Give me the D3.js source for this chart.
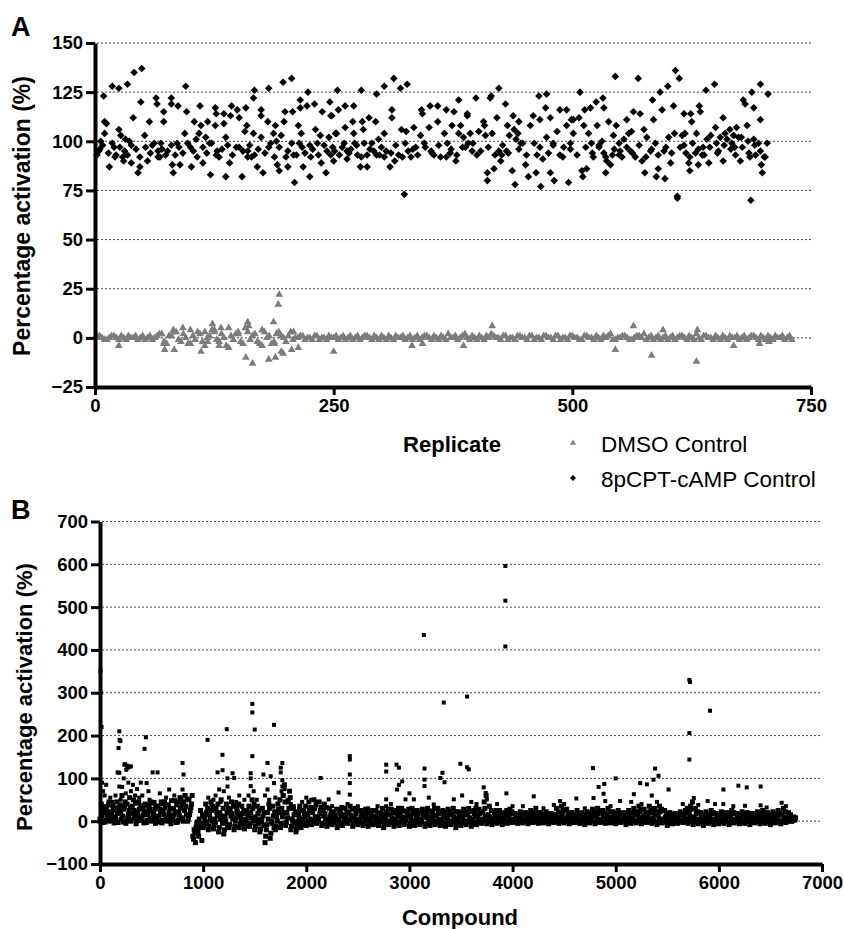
<!DOCTYPE html>
<html><head><meta charset="utf-8">
<script src="https://cdn.jsdelivr.net/npm/d3@7"></script>
<style>
body{margin:0;background:#fff}
svg{display:block;background:#fff}
text{font-family:"Liberation Sans",Arial,Helvetica,sans-serif}
</style>
</head><body>
<svg id="chart" width="844" height="929"></svg>
<script>
// ---------- Panel A data ----------
const ticksAX = [0, 250, 500, 750];
const ticksAY = [-25, 0, 25, 50, 75, 100, 125, 150];
const legendLabels = ["DMSO Control", "8pCPT-cAMP Control"];

// DMSO control: one value every 5 replicates (0..730)
const dmsoStep = 5;
const dmsoBase = [
  0,1,-1,0,1,-1,0,1,0,-1,
  1,0,-1,1,2,-3,1,3,-2,0,
  4,-1,2,-4,1,3,-2,0,5,-1,
  2,-3,3,1,-2,4,0,-3,2,1,
  -2,3,0,1,-1,0,1,-1,0,1,
  0,-1,1,0,-1,1,0,1,-1,0,
  1,-1,0,1,0,-1,1,0,-1,1,
  0,1,-1,0,2,0,-1,1,0,1,
  -1,0,1,2,0,-1,1,0,-1,1,
  0,1,-1,0,1,0,-1,1,0,-1,
  1,0,-1,1,0,1,-1,0,2,-1,
  0,1,-1,0,1,2,0,-1,1,0,
  -1,1,0,1,-1,0,2,-1,1,0,
  1,-1,0,1,0,-1,1,0,1,-1,
  0,1,-1,0,1,0,-1
];
// DMSO control: replicates in between (2.5, 7.5, ... 727.5)
const dmsoMid = [
  1,0,-1,1,0,1,-1,0,1,0,
  -1,1,0,2,-2,1,3,-1,2,-3,
  1,3,-2,0,4,-1,2,-4,1,2,
  -2,5,-1,2,-3,3,1,-2,3,0,
  1,-1,0,1,0,-1,1,0,-1,0,
  1,0,-1,1,0,-1,1,0,1,-1,
  0,1,-1,0,1,0,-1,1,0,1,
  -1,0,1,-1,0,1,0,2,-1,0,
  1,-1,0,1,0,1,-1,0,1,0,
  -1,1,0,-1,1,0,1,-1,0,1,
  0,-1,1,0,-1,0,1,1,-1,0,
  1,0,-1,1,0,-1,1,0,-1,1,
  0,-1,1,0,1,-1,0,1,0,-1,
  0,1,-1,0,1,0,-1,1,0,1,
  -1,0,1,0,-1,1
];
// DMSO outlying replicates [replicate, %]
const dmsoOut = [
  [25,-4],[72,-3],[73,-6],[83,-6],[82,4],[92,5],[100,-3],[111,-7],[115,3],[118,-2],
  [123,7],[125,4],[130,-4],[132,5],[140,-5],[150,3],[158,-10],[160,8],[161,6],[165,-13],
  [175,-4],[182,-11],[187,8],[188,-3],[189,-10],[192,17],[193,22],[195,-7],[197,-8],
  [206,-6],[208,3],[213,-5],[250,-7],[332,-4],[343,-3],[386,-4],[416,6],[545,-6],
  [564,6],[583,-9],[595,4],[630,-12],[631,4],[669,-4],[696,-3],[706,-2]
];
// 8pCPT-cAMP control [replicate, %]
const camp = [
  [2,93],[4,95],[6,100],[9,123],[10,110],[10,104],[12,109],[15,87],[18,128],[20,97],[22,93],
  [25,127],[25,106],[27,103],[29,92],[30,90],[32,101],[34,129],[36,100],[38,89],[40,112],
  [41,135],[45,84],[47,87],[48,120],[49,137],[52,103],[55,90],[57,110],[60,98],[64,122],
  [65,119],[66,95],[68,92],[69,99],[72,115],[72,110],[74,93],[80,122],[80,119],[81,88],
  [82,84],[86,99],[87,118],[89,88],[94,104],[95,128],[96,115],[100,97],[101,87],[104,110],
  [106,101],[109,104],[110,118],[111,108],[113,89],[116,102],[118,110],[120,99],[121,83],
  [126,117],[127,114],[126,108],[128,95],[130,92],[135,114],[135,109],[137,102],[137,82],
  [141,89],[143,118],[142,113],[149,116],[151,112],[151,97],[154,82],[158,117],[159,108],
  [157,105],[160,95],[160,92],[164,92],[166,104],[167,126],[166,122],[170,87],[174,116],
  [174,113],[174,102],[176,84],[181,110],[182,127],[182,97],[187,104],[189,108],[190,100],
  [191,88],[193,85],[195,103],[197,130],[198,110],[199,115],[200,92],[202,87],[206,132],
  [207,115],[208,93],[209,79],[213,108],[214,99],[215,117],[216,104],[215,121],[218,87],
  [222,118],[223,125],[225,98],[225,82],[226,92],[230,119],[231,106],[233,99],[236,103],
  [237,89],[238,115],[242,84],[245,102],[246,120],[247,113],[247,93],[250,90],[252,104],
  [5,96],[8,98],[14,94],[18,99],[21,92],[26,97],[31,95],[34,93],[38,98],[43,96],[47,92],
  [53,97],[58,94],[62,99],[66,92],[70,96],[76,95],[80,98],[84,93],[88,97],[92,94],[97,99],
  [103,95],[107,92],[113,97],[117,94],[122,99],[127,93],[133,96],[139,98],[144,93],[148,97],
  [155,95],[162,98],[167,93],[171,96],[178,94],[184,99],[188,92],[193,97],[202,95],[206,99],
  [211,93],[217,97],[220,94],[228,96],[234,93],[240,98],[243,95],[249,97],
  [248,113],[254,126],[255,116],[253,104],[251,95],[262,118],[262,107],[261,99],[264,95],
  [264,91],[271,118],[270,110],[271,104],[272,99],[268,96],[275,93],[278,87],[279,126],
  [280,110],[281,106],[282,99],[285,87],[285,93],[287,112],[290,99],[292,95],[294,110],
  [295,124],[297,101],[298,93],[303,128],[303,104],[303,92],[305,95],[309,87],[311,116],
  [311,112],[313,132],[314,90],[318,93],[320,127],[321,106],[324,73],[325,99],[326,105],
  [327,129],[328,95],[331,92],[334,107],[336,97],[341,103],[342,116],[343,114],[345,99],
  [350,107],[351,118],[352,95],[355,93],[359,110],[359,118],[362,92],[366,104],[368,116],
  [369,99],[372,94],[374,108],[376,115],[378,90],[381,121],[381,104],[383,108],[385,97],
  [386,102],[390,114],[390,113],[391,99],[393,104],[395,95],[399,122],[400,93],[402,105],
  [407,110],[408,108],[409,103],[411,84],[411,80],[414,122],[415,123],[416,104],[418,86],
  [421,112],[423,127],[423,95],[425,90],[426,93],[430,119],[431,95],[432,108],[434,103],
  [437,85],[438,113],[439,106],[440,78],[441,101],[443,104],[444,110],[446,99],[448,99],
  [451,88],[454,82],[456,108],[459,113],[460,99],[462,84],[463,93],[465,123],[466,111],
  [467,77],[469,91],[472,117],[473,124],[473,102],[477,112],[477,84],[480,99],[481,80],
  [484,105],[487,116],[487,93],[491,97],[494,116],[494,108],[496,79],[498,99],[499,111],[501,104],
  [256,93],[259,97],[266,94],[274,98],[279,92],[288,96],[295,93],[300,97],[310,94],[315,98],
  [322,92],[333,96],[338,93],[346,97],[353,94],[360,98],[368,92],[373,96],[379,93],[388,97],
  [396,99],[404,95],[412,97],[419,93],[427,98],[433,94],[444,96],[452,93],[466,97],[475,94],
  [480,98],[490,92],[498,96],[505,93],[514,97],[521,94],[528,98],[535,92],[544,96],[549,93],
  [557,97],[563,94],[570,98],[577,92],[583,96],[590,93],[598,97],[604,94],[617,98],[623,92],
  [632,96],[638,93],[644,97],[652,94],[659,98],[666,96],[671,93],[678,97],[685,94],[691,98],
  [697,95],[702,92],
  [501,111],[507,112],[508,125],[510,85],[511,82],[512,108],[513,116],[515,86],[517,104],
  [519,117],[520,99],[522,92],[525,120],[526,108],[528,97],[532,122],[533,117],[531,100],
  [533,94],[535,84],[536,90],[538,110],[540,88],[542,93],[543,103],[545,133],[546,108],
  [549,99],[550,95],[552,92],[554,101],[557,111],[559,104],[561,95],[562,105],[564,115],
  [566,92],[569,132],[571,114],[573,90],[575,106],[576,84],[578,102],[582,95],[584,121],
  [585,111],[587,99],[588,82],[590,86],[592,125],[594,116],[596,95],[597,81],[600,128],
  [601,102],[603,89],[606,118],[607,104],[608,136],[610,72],[610,71],[612,132],[613,97],
  [615,103],[617,114],[618,104],[619,94],[622,89],[623,85],[624,114],[625,110],[626,99],
  [629,94],[630,104],[632,88],[633,118],[634,115],[636,93],[637,97],[640,126],[641,101],
  [643,89],[645,103],[649,129],[650,107],[651,99],[653,95],[655,102],[658,112],[658,90],
  [660,104],[662,101],[665,106],[667,99],[669,103],[670,97],[672,107],[674,102],[676,90],
  [677,102],[679,121],[681,119],[683,108],[684,100],[686,92],[687,70],[688,125],[690,117],
  [690,101],[692,93],[695,99],[697,111],[697,129],[698,88],[699,84],[701,92],[704,99],[705,124]
];

// ---------- Panel B data ----------
const ticksBX = [0, 1000, 2000, 3000, 4000, 5000, 6000, 7000];
const ticksBY = [-100, 0, 100, 200, 300, 400, 500, 600, 700];
// bulk of compounds: 8 sampled compounds per block of 50 (two arrays of 4)
const blockSize = 50;
const bulkA = [
  5,40,-3,20, -2,30,8,45, 0,15,35,-4, 10,45,-3,25, 20,60,-2,35, -5,40,15,55, 0,35,50,10, -6,20,45,5, 2,30,-4,40, -3,15,38,8,
  0,42,12,-5, 6,35,-2,22, -4,25,45,10, 0,38,12,-6, 3,30,48,-3, -2,20,55,8, 5,45,60,15, 0,50,25,40, -35,-20,-50,-8, -25,5,25,-45,
  -15,10,40,-5, -20,15,45,0, -18,5,30,12, -25,20,50,-5, -30,10,40,-10, -15,25,45,5, -20,0,30,15, -15,10,35,-5, -18,5,25,12, -12,20,50,0,
  -20,10,35,-5, -25,5,30,-10, -50,-20,20,40, -40,0,35,-15, -20,10,40,20, -15,30,60,85, -10,20,45,70, -20,5,30,-5, -25,-10,15,35, -15,0,25,10,
  -10,15,45,5, -8,20,50,10, -5,10,45,25, -10,25,40,5, -12,5,30,15, -8,20,10,-3, -15,5,25,12, -10,15,30,0, -5,20,35,8, -12,10,30,0,
  -8,5,25,15, -10,15,28,2, -12,0,20,10, -8,12,25,3, -10,5,20,30, -15,10,22,0, -8,15,28,4, -12,5,25,12, -10,18,30,0, -8,8,22,14,
  -12,10,30,2, -10,15,25,0, -8,5,28,12, -12,18,30,3, -10,8,22,0, -8,12,30,4, -10,5,25,15, -12,10,28,0, -8,15,30,5, -15,5,22,12,
  -10,10,28,0, -8,15,30,3, -12,5,25,12, -8,12,28,0, -5,20,45,10, -6,15,35,2, -8,5,20,12, -5,10,25,0, -8,8,20,15, -5,12,28,2,
  -3,5,18,10, -5,10,22,0, -4,5,20,12, -6,15,25,2, -3,10,30,5, -5,8,20,0, -4,12,22,5, -6,5,18,10, -3,15,30,2, -5,10,35,20,
  -4,5,28,12, -6,8,20,0, -3,12,25,5, -5,5,20,10, -8,10,22,0, -4,8,28,15, -6,12,30,2, -3,5,25,10, -5,15,30,0, -4,8,22,12,
  -6,10,25,2, -3,5,20,12, -8,12,25,0, -5,8,30,15, -4,15,35,5, -6,10,28,0, -3,12,35,20, -5,8,30,15, -8,15,35,2, -4,5,25,12,
  -10,8,20,0, -6,5,18,10, -5,10,22,2, -3,15,25,5, -5,20,35,8, -8,10,30,0, -6,5,20,12, -10,8,22,0, -5,12,25,3, -8,5,18,10,
  -6,10,22,0, -5,8,20,12, -8,12,25,2, -4,5,18,10, -6,10,22,0, -5,8,20,12, -8,5,18,0, -4,10,22,5, -6,8,25,12, -5,12,20,2,
  -8,5,22,10, -4,10,25,0, -6,15,30,5, -3,8,20,2, 0,5,10,3
];
const bulkB = [
  0,12,28,34, 2,15,22,38, 5,10,25,30, 2,18,32,38, 5,12,28,45, 0,8,25,32, 5,18,25,42, 0,12,28,36, 8,15,22,35, 2,22,28,45,
  5,20,28,35, 0,12,28,45, 2,15,32,38, 5,20,28,48, 8,15,22,38, 2,14,30,40, 0,25,35,52, 8,15,32,60, -42,-28,-15,-2, -35,-15,-5,15,
  -10,0,20,30, -12,5,25,35, -10,-3,20,40, -15,5,12,30, -20,0,20,30, -8,12,18,35, -12,8,22,40, -8,2,18,25, -10,0,18,35, -5,8,30,40,
  -12,2,18,25, -18,0,12,20, -35,-8,5,30, -28,-5,12,22, -12,0,28,50, -5,10,20,45, -3,8,30,55, -12,0,15,22, -18,0,8,25, -8,5,18,35,
  -5,0,25,32, -3,2,30,38, 0,5,18,32, -5,12,18,32, -6,0,10,22, 2,5,15,28, -8,0,18,32, -5,5,10,22, 0,3,14,28, -6,5,18,24,
  -4,0,10,20, -5,5,10,20, -6,5,14,25, -3,0,8,18, -5,0,10,15, -8,3,15,28, -3,0,8,20, -6,0,18,30, -4,5,10,24, -2,2,15,28,
  -6,0,18,24, -4,5,10,20, -3,0,18,22, -6,8,12,24, -4,2,14,30, -3,0,18,22, -5,0,10,20, -6,5,15,22, -3,0,10,22, -8,0,10,18,
  -4,5,15,22, -3,0,8,22, -6,0,18,30, -3,5,18,22, 0,5,30,60, -2,5,10,25, -3,0,15,25, -2,5,15,18, -3,0,12,25, 0,5,18,22,
  0,2,8,14, -2,4,15,18, 0,2,8,16, -2,5,10,20, 0,2,15,20, -2,2,12,15, 0,2,8,16, -2,2,12,15, 0,5,10,22, 0,5,14,25,
  0,2,8,18, -2,2,12,15, 0,2,8,18, -2,2,12,15, -3,5,15,18, 0,2,12,20, -2,5,18,24, 0,2,15,18, -2,5,10,22, 0,2,15,18,
  -2,5,15,18, 0,2,8,16, -3,5,18,20, 0,2,20,22, 0,8,22,28, -2,5,15,20, 0,5,22,28, 0,2,20,22, -3,5,22,28, 0,2,8,18,
  -4,0,12,15, -2,2,12,15, 0,2,15,18, 0,8,20,30, 0,12,28,45, -3,2,18,22, -2,0,10,15, -4,2,12,15, 0,5,18,20, -3,0,12,14,
  -2,2,15,18, 0,2,15,18, -3,5,18,20, 0,2,12,15, -2,2,15,18, 0,2,15,18, -3,2,10,12, 0,2,15,18, -2,2,18,20, 0,5,8,15,
  -3,0,15,18, 0,5,15,18, -2,2,10,22, 0,4,12,15, 0,2,6,8
];
// scattered and outlying compounds [compound, %]
const bScatter = [
  [5,350],[10,300],[15,220],[20,90],[30,70],[45,60],[60,85],
  [187,210],[190,190],[180,171],[198,187],[171,114],[187,113],[187,81],[236,132],[261,130],[284,127],[242,133],
  [300,128],[255,120],[270,125],[275,90],[230,100],[215,80],[320,85],[340,60],[360,75],[380,55],[395,90],[410,60],
  [250,65],[300,70],[200,50],[150,60],[120,45],[100,55],[80,40],
  [445,196],[432,169],[452,89],[510,114],[558,114],[671,74],[800,136],[810,109],[800,74],[820,60],[790,50],[760,45],
  [720,60],[640,55],[600,40],[580,65],[530,45],[480,50],[470,70],
  [1043,190],[1187,155],[1229,215],[1140,114],[1155,74],[1188,119],[1236,100],[1236,81],[1285,112],[1301,101],
  [1100,50],[1080,40],[1050,55],[1120,60],[1170,45],[1200,70],[1250,55],[1320,45],[1350,60],[1400,50],
  [1477,274],[1477,254],[1500,214],[1477,152],[1461,112],[1461,100],[1461,82],[1440,60],[1490,70],[1520,50],
  [1687,225],[1624,136],[1584,109],[1655,105],[1687,89],[1624,74],[1600,60],[1640,50],[1700,55],[1768,136],
  [1752,125],[1752,114],[1768,96],[1768,81],[1780,60],[1790,75],[1760,70],[1820,50],[1850,40],[1880,35],
  [1930,30],[1960,45],[2000,55],[2050,50],[2100,45],
  [2139,101],[2422,152],[2422,144],[2422,109],[2422,89],[2422,62],[2313,67],[2217,51],[2250,35],[2400,40],
  [2500,35],[2600,30],[2691,35],[2775,132],[2775,116],[2775,51],[2775,35],[2875,132],[2898,125],[2898,85],
  [2880,74],[2930,93],[2962,51],[3000,65],[3043,51],[2820,40],
  [3140,435],[3146,123],[3146,97],[3146,82],[3188,55],[3236,39],[3300,101],[3320,113],[3340,91],[3333,277],
  [3430,51],[3494,134],[3511,60],[3559,291],[3559,126],[3575,121],[3720,79],[3740,66],[3750,51],[3930,596],
  [3930,515],[3930,408],[3940,65],[4205,58],[4100,35],[4300,30],[4460,47],[4500,40],[4618,53],[4779,124],
  [4785,54],[4834,80],[4889,87],[4882,64],[4898,47],[5000,100],[5043,47],[5176,63],[5237,89],[5302,86],
  [5382,123],[5366,97],[5415,106],[5350,60],[5400,45],[5512,74],[5714,330],[5720,325],[5714,206],[5714,144],
  [5757,54],[5892,47],[5914,258],[5963,40],[6044,74],[6043,40],[6140,35],[6189,83],[6253,36],[6270,79],
  [6405,81],[6405,37],[6463,32],[6609,43],[6650,35],[5650,40],[5800,38],[4950,35],[5250,40],[5150,45],
  [4700,30],[4400,38],[4000,35],[3850,40],[3650,40],[3600,45]
];

// ---------- drawing ----------
const svg = d3.select("#chart");
const FONT = '"Liberation Sans",Arial,Helvetica,sans-serif';
const fmt = d3.format("d");

function styleAxis(g, fontSize) {
  g.select(".domain").attr("stroke", "#000").attr("stroke-width", 4);
  g.selectAll(".tick line").attr("stroke", "#000").attr("stroke-width", 3);
  g.selectAll(".tick text").attr("fill", "#000").attr("font-weight", "bold")
    .attr("font-size", fontSize).attr("font-family", FONT);
}

function grid(g, y, ticks, x0, x1) {
  g.selectAll("line.grid").data(ticks).join("line").attr("class", "grid")
    .attr("x1", x0).attr("x2", x1).attr("y1", d => y(d)).attr("y2", d => y(d))
    .attr("stroke", "#444").attr("stroke-width", 1).attr("stroke-dasharray", "2,2");
}

// Panel A
const xA = d3.scaleLinear().domain([0, 750]).range([95, 811]);
const yA = d3.scaleLinear().domain([-25, 150]).range([387, 43]);
const gA = svg.append("g");
grid(gA, yA, ticksAY.filter(d => d > -25), 97, 813);

const triangle = d3.symbol().type(d3.symbolTriangle).size(26);
const dmsoPts = dmsoBase.map((v, i) => [i * dmsoStep, v])
  .concat(dmsoMid.map((v, i) => [i * dmsoStep + dmsoStep / 2, v]))
  .concat(dmsoOut);
gA.append("g").selectAll("path").data(dmsoPts).join("path")
  .attr("d", triangle).attr("fill", "#7c7c7c")
  .attr("transform", d => `translate(${xA(d[0])},${yA(d[1])})`);

const diamondPath = "M0,-3.8L3.8,0L0,3.8L-3.8,0Z";
gA.append("g").selectAll("path").data(camp).join("path")
  .attr("d", diamondPath).attr("fill", "#000")
  .attr("transform", d => `translate(${xA(d[0])},${yA(d[1])})`);

gA.append("g").attr("transform", "translate(95,0)")
  .call(d3.axisLeft(yA).tickValues(ticksAY).tickFormat(fmt).tickSize(9).tickSizeOuter(0).tickPadding(3))
  .call(g => styleAxis(g, 18.5));
gA.append("g").attr("transform", "translate(0,387)")
  .call(d3.axisBottom(xA).tickValues(ticksAX).tickFormat(fmt).tickSize(8).tickSizeOuter(0).tickPadding(4))
  .call(g => styleAxis(g, 18.5));

gA.append("text").attr("x", 11).attr("y", 36).text("A")
  .attr("font-size", 27).attr("font-weight", "bold");
gA.append("text").attr("transform", "translate(30,216) rotate(-90)")
  .attr("text-anchor", "middle").attr("font-size", 23).attr("font-weight", "bold")
  .text("Percentage activation (%)");
gA.append("text").attr("x", 452).attr("y", 452).attr("text-anchor", "middle")
  .attr("font-size", 22).attr("font-weight", "bold").text("Replicate");

// legend
const lg = gA.append("g");
lg.append("path").attr("d", d3.symbol().type(d3.symbolTriangle).size(16))
  .attr("fill", "#7c7c7c").attr("transform", "translate(573,443)");
lg.append("path").attr("d", "M0,-3L3,0L0,3L-3,0Z").attr("fill", "#000")
  .attr("transform", "translate(573,478)");
lg.selectAll("text").data(legendLabels).join("text")
  .attr("x", 601).attr("y", (d, i) => 452 + i * 35)
  .attr("font-size", 22.5).text(d => d);

// Panel B
const xB = d3.scaleLinear().domain([0, 7000]).range([100, 822]);
const yB = d3.scaleLinear().domain([-100, 700]).range([864, 521.5]);
const gB = svg.append("g");
grid(gB, yB, ticksBY.filter(d => d > -100), 102, 822);

const bulkPts = bulkA.map((v, i) => [Math.floor(i / 4) * blockSize + (i % 4) * blockSize / 4, v])
  .concat(bulkB.map((v, i) => [Math.floor(i / 4) * blockSize + (i % 4) * blockSize / 4 + blockSize / 8, v]));
gB.append("g").selectAll("rect").data(bulkPts).join("rect")
  .attr("x", d => xB(d[0]) - 2.5).attr("y", d => yB(d[1]) - 2.5)
  .attr("width", 5).attr("height", 5).attr("fill", "#000");
gB.append("g").selectAll("rect").data(bScatter).join("rect")
  .attr("x", d => xB(d[0]) - 2).attr("y", d => yB(d[1]) - 2)
  .attr("width", 4).attr("height", 4).attr("fill", "#000");

gB.append("g").attr("transform", "translate(100,0)")
  .call(d3.axisLeft(yB).tickValues(ticksBY).tickFormat(fmt).tickSize(9).tickSizeOuter(0).tickPadding(3))
  .call(g => styleAxis(g, 18.5));
gB.append("g").attr("transform", "translate(0,864)")
  .call(d3.axisBottom(xB).tickValues(ticksBX).tickFormat(fmt).tickSize(8).tickSizeOuter(0).tickPadding(4))
  .call(g => styleAxis(g, 18.5));

gB.append("text").attr("x", 11).attr("y", 519).text("B")
  .attr("font-size", 27).attr("font-weight", "bold");
gB.append("text").attr("transform", "translate(32,697) rotate(-90)")
  .attr("text-anchor", "middle").attr("font-size", 22).attr("font-weight", "bold")
  .text("Percentage activation (%)");
gB.append("text").attr("x", 460).attr("y", 925).attr("text-anchor", "middle")
  .attr("font-size", 22).attr("font-weight", "bold").text("Compound");
</script>
</body></html>
